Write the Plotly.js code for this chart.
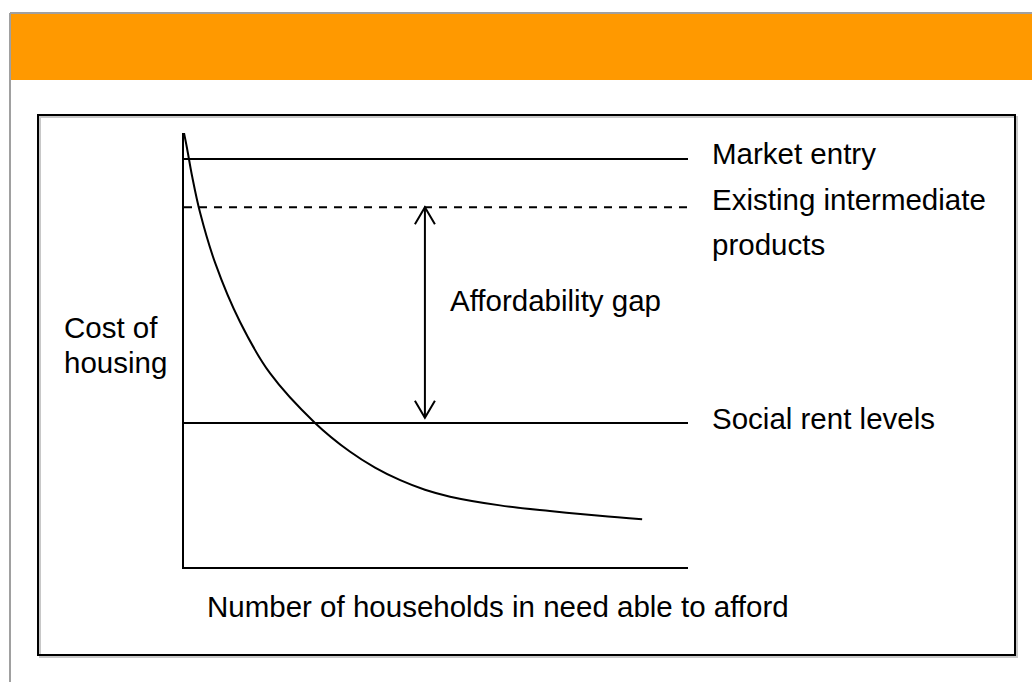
<!DOCTYPE html>
<html>
<head>
<meta charset="utf-8">
<script src="https://cdn.plot.ly/plotly-3.0.1.min.js"></script>
<style>html,body{margin:0;padding:0;background:#fff;}#chart{width:1032px;height:682px;}</style>
</head>
<body>
<div id="chart"></div>
<script>
// ---- data (abstract units: 0-100 on both axes) ----
var curveX = [0, 0.6, 1.6, 3.2, 6.2, 11.1, 17.1, 26.0, 32.9, 37.9, 42.9, 47.8, 52.8, 62.7, 72.6, 82.5, 90.9];
var curveY = [100, 96.5, 90.1, 81.6, 70.0, 56.5, 44.6, 33.2, 26.6, 22.9, 20.0, 17.8, 16.2, 14.2, 12.9, 11.8, 11.0];
var levelNames = ["Market entry", "Existing intermediate products", "Social rent levels"];
var levelValues = [94.0, 82.9, 33.2];
var levelDash = ["solid", "dash", "solid"];
var levelXStart = 0, levelXEnd = 100;
var gapX = 47.8;
var labelTexts = ["Market entry", "Existing intermediate", "products", "Affordability gap", "Social rent levels", "Cost of", "housing", "Number of households in need able to afford"];
var labelX = [104.4, 104.4, 104.4, 52.4, 104.4, -24.2, -24.2, 4.2];
var labelY = [95.2, 84.6, 74.2, 61.5, 34.3, 55.1, 47.2, -9.2];

// ---- geometry (pixels) ----
var W = 1032, H = 682;
var L = 184, R = 688, T = 133, B = 567;
function px(x){ return (x - L) / (R - L); }
function py(y){ return (B - y) / (B - T); }
var headHalfW = 10 / (R - L) * 100;   // arrow head half width (data units)
var headH = 17 / (B - T) * 100;       // arrow head height (data units)

var traces = [];
for (var i = 0; i < levelNames.length; i++) {
  traces.push({
    x: [levelXStart, levelXEnd], y: [levelValues[i], levelValues[i]],
    mode: 'lines', name: levelNames[i], hoverinfo: 'skip',
    line: {color: '#000', width: 2, dash: levelDash[i] === 'dash' ? '8px,7px' : 'solid'},
    cliponaxis: false
  });
}
traces.push({
  x: curveX, y: curveY, mode: 'lines', name: 'Affordability',
  line: {color: '#000', width: 2, shape: 'spline', smoothing: 1}, cliponaxis: false, hoverinfo: 'skip'
});
// affordability gap double-headed arrow
var arrowTop = levelValues[1], arrowBot = levelValues[2] + 1.2;
traces.push({
  x: [gapX, gapX, null, gapX - headHalfW, gapX, gapX + headHalfW, null, gapX - headHalfW, gapX, gapX + headHalfW],
  y: [arrowTop, arrowBot, null, arrowTop - headH, arrowTop, arrowTop - headH, null, arrowBot + headH, arrowBot, arrowBot + headH],
  mode: 'lines', name: 'gap', hoverinfo: 'skip', cliponaxis: false,
  line: {color: '#000', width: 2}
});

var annotations = [];
for (var j = 0; j < labelTexts.length; j++) {
  annotations.push({
    x: labelX[j] / 100, y: labelY[j] / 100, xref: 'paper', yref: 'paper', text: labelTexts[j],
    showarrow: false, xanchor: 'left', yanchor: 'middle',
    font: {family: 'Liberation Sans, Arial, sans-serif', size: 29.5, color: '#000'}
  });
}

var shapes = [
  // orange header band
  {type: 'rect', xref: 'paper', yref: 'paper', x0: px(11), x1: px(W), y0: py(14), y1: py(80),
   fillcolor: '#ff9900', line: {width: 0}, layer: 'below'},
  // grey page border (top & left)
  {type: 'line', xref: 'paper', yref: 'paper', x0: px(10), x1: px(W), y0: py(13), y1: py(13),
   line: {color: '#a0a0a0', width: 2}},
  {type: 'line', xref: 'paper', yref: 'paper', x0: px(10), x1: px(10), y0: py(13), y1: py(H),
   line: {color: '#a0a0a0', width: 2}},
  // frame shadow
  {type: 'rect', xref: 'paper', yref: 'paper', x0: px(40), x1: px(1017), y0: py(117), y1: py(657),
   line: {color: '#c8c8c8', width: 2}, layer: 'below'},
  // black frame
  {type: 'rect', xref: 'paper', yref: 'paper', x0: px(38), x1: px(1015), y0: py(115), y1: py(655),
   line: {color: '#000', width: 2}, fillcolor: 'rgba(0,0,0,0)', layer: 'below'}
];

var layout = {
  width: W, height: H,
  margin: {l: L, r: W - R, t: T, b: H - B, pad: 0},
  paper_bgcolor: '#fff', plot_bgcolor: '#fff',
  showlegend: false,
  xaxis: {range: [0, 100], showgrid: false, zeroline: false, showticklabels: false, ticks: '',
          showline: true, linecolor: '#000', linewidth: 2, fixedrange: true},
  yaxis: {range: [0, 100], showgrid: false, zeroline: false, showticklabels: false, ticks: '',
          showline: true, linecolor: '#000', linewidth: 2, fixedrange: true},
  annotations: annotations,
  shapes: shapes
};

Plotly.newPlot('chart', traces, layout, {displayModeBar: false, staticPlot: true});
</script>
</body>
</html>
